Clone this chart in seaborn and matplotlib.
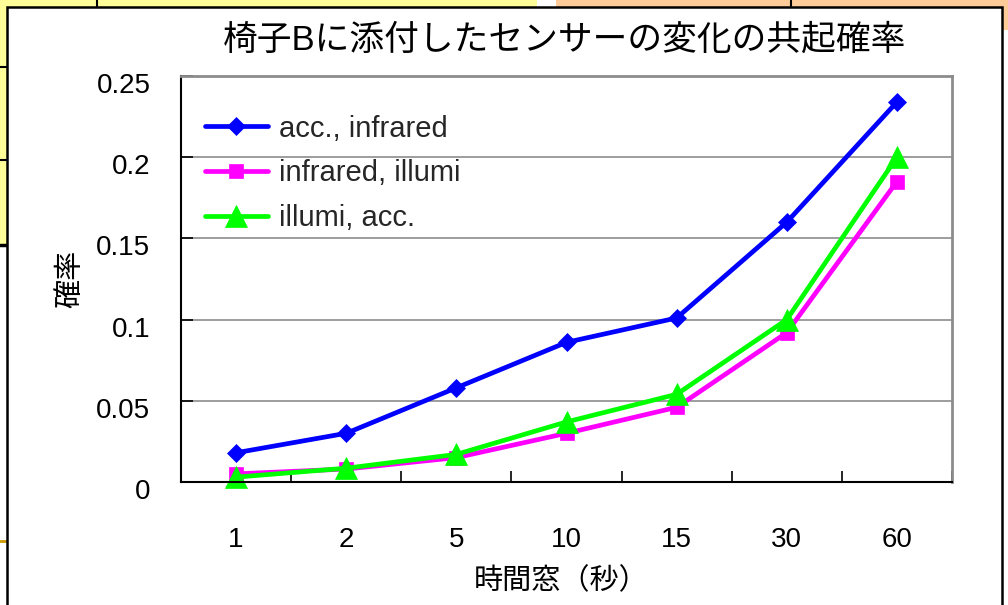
import numpy as np
import pandas as pd
import seaborn as sns
import matplotlib
matplotlib.use("Agg")
import matplotlib.pyplot as plt
from matplotlib.patches import Rectangle
from matplotlib.lines import Line2D
from matplotlib.transforms import ScaledTranslation

# ---- data -------------------------------------------------------------
windows = ["1", "2", "5", "10", "15", "30", "60"]
acc_infrared = [0.018, 0.030, 0.058, 0.086, 0.101, 0.160, 0.234]
infrared_illumi = [0.005, 0.008, 0.015, 0.030, 0.046, 0.092, 0.185]
illumi_acc = [0.003, 0.0085, 0.017, 0.037, 0.054, 0.100, 0.200]

series_names = ["acc., infrared", "infrared, illumi", "illumi, acc."]
series_values = [acc_infrared, infrared_illumi, illumi_acc]
y_ticks = [0, 0.05, 0.1, 0.15, 0.2, 0.25]
y_tick_labels = ["0", "0.05", "0.1", "0.15", "0.2", "0.25"]

title = "椅子Bに添付したセンサーの変化の共起確率"
x_label = "時間窓（秒）"
y_label = "確率"

# ---- style --------------------------------------------------------------
sns.set_theme(style="white")
FAMILY = ["Liberation Sans", "Noto Sans CJK JP", "DejaVu Sans"]
plt.rcParams["font.family"] = FAMILY

W, H = 1008, 605
fig = plt.figure(figsize=(W / 100, H / 100), dpi=100)
fig.patch.set_facecolor("white")


def fx(x):
    return x / W


def fy(y):
    return 1 - y / H


def frect(x0, y0, x1, y1, **kw):
    r = Rectangle((fx(x0), fy(y1)), fx(x1) - fx(x0), fy(y0) - fy(y1),
                  transform=fig.transFigure, **kw)
    fig.patches.append(r)
    return r


def fline(xs, ys, **kw):
    ln = Line2D([fx(v) for v in xs], [fy(v) for v in ys],
                transform=fig.transFigure, **kw)
    fig.lines.append(ln)
    return ln


# worksheet cells behind the chart object
frect(0, 0, 537, 245, facecolor="#FFFF99", edgecolor="none", zorder=-5)
frect(556, 0, W, 30, facecolor="#FFCC99", edgecolor="none", zorder=-5)
fline([97, 97], [0, 8], color="black", lw=1.5, zorder=-4)
fline([791, 791], [0, 8], color="black", lw=1.5, zorder=-4)
fline([0, 7], [67, 67], color="black", lw=1.5, zorder=-4)
fline([0, 7], [160, 160], color="black", lw=1.5, zorder=-4)
fline([0, 7], [245, 245], color="black", lw=2.5, zorder=-4)
fline([0, 7], [541, 541], color="#CC9900", lw=2, zorder=-4)

# chart object frame
frect(7, 7, 1002, 640, facecolor="white", edgecolor="black", lw=1.8, zorder=-3)

# ---- plot area ------------------------------------------------------------
ax = fig.add_axes([fx(181), fy(482), fx(952) - fx(181), fy(76) - fy(482)])
ax.set_zorder(1)
ax.patch.set_facecolor("white")

colors = ["#0000FF", "#FF00FF", "#00FF00"]
markers = ["D", "s", "^"]
msizes = [9, 9.5, 16]
xpos = np.arange(len(windows))

for name, vals, c, m, ms in zip(series_names, series_values, colors, markers, msizes):
    df = pd.DataFrame({"window": xpos, "prob": vals})
    sns.lineplot(data=df, x="window", y="prob", ax=ax, color=c, lw=3.4,
                 marker=m, markersize=ms, markeredgecolor=c,
                 markeredgewidth=0.5, label=name, clip_on=False)

ax.set_xlim(-0.5, len(windows) - 0.5)
ax.set_ylim(0, 0.25)
ax.set_xticks(xpos)
ax.set_xticklabels(windows)
ax.set_xticks(np.arange(-0.5, len(windows), 1.0), minor=True)
ax.set_yticks(y_ticks)
ax.set_yticklabels(y_tick_labels)
ax.set_xlabel("")
ax.set_ylabel("")

ax.tick_params(axis="x", which="major", length=0, pad=32.5, labelsize=20,
               labelcolor="black")
ax.tick_params(axis="x", which="minor", direction="in", length=8, width=1.2,
               color="black", bottom=True)
ax.tick_params(axis="y", which="major", direction="in", length=8.5, width=1.2,
               color="black", left=True, pad=22, labelsize=20,
               labelcolor="black")
shift = ScaledTranslation(0, -7 / 100, fig.dpi_scale_trans)
for lbl in ax.get_yticklabels():
    lbl.set_transform(lbl.get_transform() + shift)

ax.yaxis.grid(True, color="#8c8c8c", lw=1.2)
ax.xaxis.grid(False)
ax.set_axisbelow(True)

for side in ["left", "bottom"]:
    ax.spines[side].set_color("black")
    ax.spines[side].set_linewidth(1.5)
for side in ["top", "right"]:
    ax.spines[side].set_color("#8c8c8c")
    ax.spines[side].set_linewidth(2)
    ax.spines[side].set_visible(True)

handles, labels = ax.get_legend_handles_labels()
ax.legend(handles, labels, loc="upper left", bbox_to_anchor=(0.031, 0.905),
          frameon=False, fontsize=21, borderaxespad=0, borderpad=0,
          handlelength=2.15, handletextpad=0.4, labelspacing=0.58)

# ---- titles -----------------------------------------------------------
fig.text(fx(565), fy(40), title, fontsize=25, ha="center", va="center",
         color="black", family=FAMILY)
fig.text(fx(561), fy(581), x_label, fontsize=21, ha="center", va="center",
         color="black", family=FAMILY)
fig.text(fx(70), fy(279), y_label, fontsize=21, ha="center", va="center",
         rotation=90, color="black", family=FAMILY)

fig.savefig("out.png", dpi=100)
